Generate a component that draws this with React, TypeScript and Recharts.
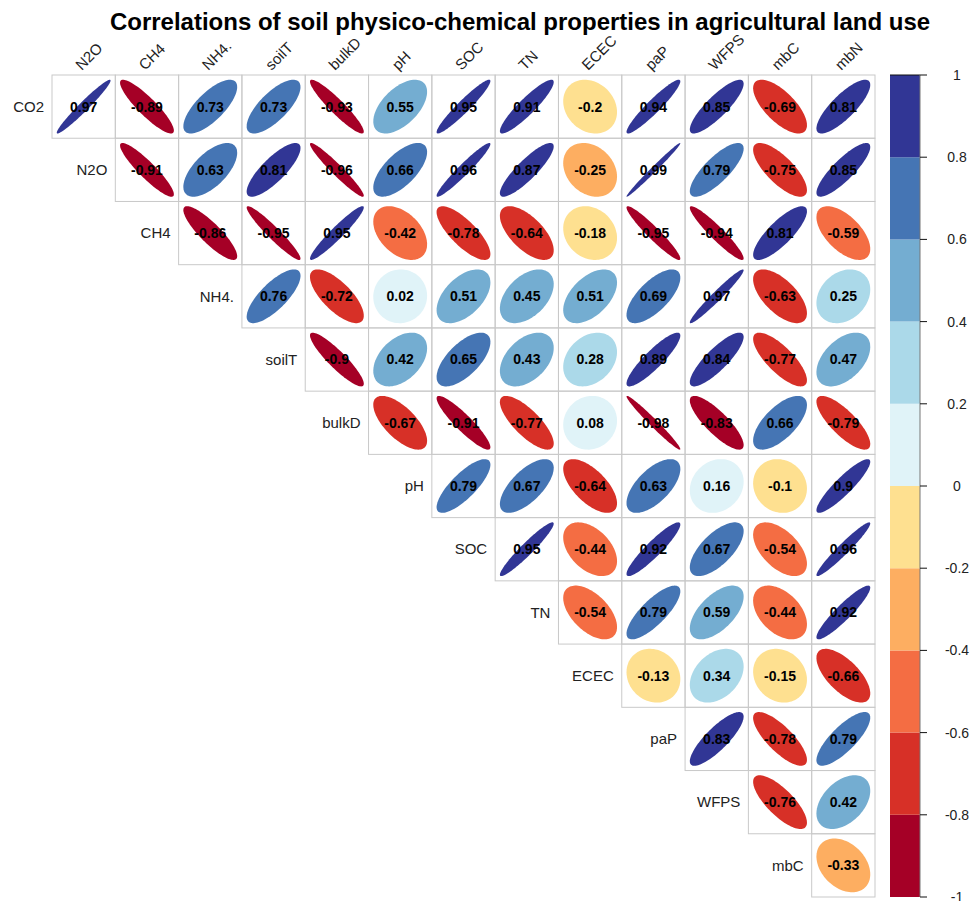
import React from "react";
import {
  ScatterChart,
  Scatter,
  XAxis,
  YAxis,
  ReferenceArea,
  ReferenceLine,
} from "recharts";

const rowVars = ["CO2", "N2O", "CH4", "NH4.", "soilT", "bulkD", "pH", "SOC", "TN", "ECEC", "paP", "WFPS", "mbC"];
const colVars = ["N2O", "CH4", "NH4.", "soilT", "bulkD", "pH", "SOC", "TN", "ECEC", "paP", "WFPS", "mbC", "mbN"];

// each row starts at the diagonal (column index == row index)
const rCO2 = [0.97, -0.89, 0.73, 0.73, -0.93, 0.55, 0.95, 0.91, -0.2, 0.94, 0.85, -0.69, 0.81];
const rN2O = [-0.91, 0.63, 0.81, -0.96, 0.66, 0.96, 0.87, -0.25, 0.99, 0.79, -0.75, 0.85];
const rCH4 = [-0.86, -0.95, 0.95, -0.42, -0.78, -0.64, -0.18, -0.95, -0.94, 0.81, -0.59];
const rNH4 = [0.76, -0.72, 0.02, 0.51, 0.45, 0.51, 0.69, 0.97, -0.63, 0.25];
const rSoilT = [-0.9, 0.42, 0.65, 0.43, 0.28, 0.89, 0.84, -0.77, 0.47];
const rBulkD = [-0.67, -0.91, -0.77, 0.08, -0.98, -0.83, 0.66, -0.79];
const rPH = [0.79, 0.67, -0.64, 0.63, 0.16, -0.1, 0.9];
const rSOC = [0.95, -0.44, 0.92, 0.67, -0.54, 0.96];
const rTN = [-0.54, 0.79, 0.59, -0.44, 0.92];
const rECEC = [-0.13, 0.34, -0.15, -0.66];
const rPaP = [0.83, -0.78, 0.79];
const rWFPS = [-0.76, 0.42];
const rMbC = [-0.33];

const corrRows = [rCO2, rN2O, rCH4, rNH4, rSoilT, rBulkD, rPH, rSOC, rTN, rECEC, rPaP, rWFPS, rMbC];

const legendBreaks = [-1, -0.8, -0.6, -0.4, -0.2, 0, 0.2, 0.4, 0.6, 0.8, 1];
const legendLabels = ["-1", "-0.8", "-0.6", "-0.4", "-0.2", "0", "0.2", "0.4", "0.6", "0.8", "1"];
const legendColors = [
  "#A50026", "#D73027", "#F46D43", "#FDAE61", "#FEE090",
  "#E0F3F8", "#ABD9E9", "#74ADD1", "#4575B4", "#313695",
];

const cells = corrRows.flatMap((vals, i) =>
  vals.map((r, k) => ({ row: i, col: i + k, r }))
);
const rowLabels = rowVars.map((name, i) => ({ row: i, col: i, name }));
const bands = legendColors.map((color, i) => ({
  x: 0.5,
  y: (legendBreaks[i] + legendBreaks[i + 1]) / 2,
  lo: legendBreaks[i],
  hi: legendBreaks[i + 1],
  color,
}));

const W = 972;
const H = 901;
const TOP = 75;
const AXIS_H = 30;
const M = { top: TOP - AXIS_H, right: 97, bottom: 4, left: 52 };
const N = colVars.length;
const cellW = (W - M.left - M.right) / N;
const cellH = (H - TOP - M.bottom) / N;
const FONT = "'Liberation Sans', Arial, Helvetica, sans-serif";

const colorFor = (r: number) => {
  const idx = Math.min(9, Math.max(0, Math.floor((r + 1) / 0.2 + 1e-9)));
  return legendColors[idx];
};

// same ellipse as corrplot's method = "ellipse"
const ellipsePath = (cx: number, cy: number, rho: number) => {
  const a = Math.acos(rho) / 2;
  const pts: string[] = [];
  for (let s = 0; s < 99; s++) {
    const k = (s / 98) * 2 * Math.PI;
    const x = (Math.cos(k + a) / 2) * 0.85 * cellW;
    const y = (Math.cos(k - a) / 2) * 0.85 * cellH;
    pts.push(`${(cx + x).toFixed(2)},${(cy - y).toFixed(2)}`);
  }
  return `M${pts.join("L")}Z`;
};

const CellShape = (props: any) => {
  const { cx, cy, payload } = props;
  if (cx == null || cy == null) return null;
  return (
    <g>
      <rect
        x={cx - cellW / 2}
        y={cy - cellH / 2}
        width={cellW}
        height={cellH}
        fill="none"
        stroke="#c9c9c9"
        strokeWidth={1}
      />
      <path d={ellipsePath(cx, cy, payload.r)} fill={colorFor(payload.r)} />
      <text
        x={cx}
        y={cy}
        dy="0.35em"
        textAnchor="middle"
        fontFamily={FONT}
        fontSize={14}
        fontWeight="bold"
        fill="#000">
        {payload.r}
      </text>
    </g>
  );
};

const RowLabel = (props: any) => {
  const { cx, cy, payload } = props;
  if (cx == null || cy == null) return null;
  return (
    <text
      x={cx - cellW / 2 - 8}
      y={cy}
      dy="0.35em"
      textAnchor="end"
      fontFamily={FONT}
      fontSize={15}
      fill="#222">
      {payload.name}
    </text>
  );
};

const ColTick = ({ x = 0, payload }: any) => {
  if (!payload) return null;
  return (
    <text
      transform={`translate(${x - 2},${TOP - 4}) rotate(-45)`}
      textAnchor="start"
      fontFamily={FONT}
      fontSize={15}
      fill="#222">
      {colVars[payload.value]}
    </text>
  );
};

const LegendTick = ({ x = 0, y = 0, payload }: any) => {
  if (!payload) return null;
  const i = legendBreaks.indexOf(payload.value);
  return (
    <text
      x={x + 28}
      y={y}
      dy="0.35em"
      textAnchor="middle"
      fontFamily={FONT}
      fontSize={14}
      fill="#222">
      {i >= 0 ? legendLabels[i] : payload.value}
    </text>
  );
};

export default function App() {
  return (
    <div
      style={{
        position: "absolute",
        left: 0,
        top: 0,
        width: W,
        height: H,
        background: "#fff",
      }}>
      <div
        style={{
          position: "absolute",
          left: 520,
          top: 8,
          transform: "translateX(-50%)",
          whiteSpace: "nowrap",
          fontFamily: FONT,
          fontWeight: "bold",
          fontSize: 24,
          color: "#000",
        }}>
        Correlations of soil physico-chemical properties in agricultural land use
      </div>
      <div style={{ position: "absolute", left: 0, top: 0 }}>
        <ScatterChart width={W} height={H} margin={M}>
          <XAxis
            type="number"
            dataKey="col"
            orientation="top"
            domain={[-0.5, N - 0.5]}
            ticks={colVars.map((_, i) => i)}
            axisLine={false}
            tickLine={false}
            height={AXIS_H}
            tick={<ColTick />}
            interval={0}
          />
          <YAxis
            type="number"
            dataKey="row"
            domain={[-0.5, N - 0.5]}
            reversed
            hide
          />
          <Scatter data={cells} shape={<CellShape />} isAnimationActive={false} />
          <Scatter data={rowLabels} shape={<RowLabel />} isAnimationActive={false} />
        </ScatterChart>
      </div>
      <div style={{ position: "absolute", left: 880, top: 0 }}>
        <ScatterChart
          width={92}
          height={H}
          margin={{ top: TOP, right: 0, bottom: M.bottom, left: 10 }}>
          <XAxis type="number" dataKey="x" domain={[0, 1]} hide />
          <YAxis
            type="number"
            dataKey="y"
            orientation="right"
            domain={[-1, 1]}
            ticks={legendBreaks}
            interval={0}
            width={52}
            axisLine={{ stroke: "#777" }}
            tickLine={{ stroke: "#111" }}
            tickSize={7}
            tick={<LegendTick />}
          />
          {bands.map((b) => (
            <ReferenceArea
              key={b.lo}
              x1={0}
              x2={1}
              y1={b.lo}
              y2={b.hi}
              fill={b.color}
              fillOpacity={1}
              stroke="none"
            />
          ))}
          <ReferenceLine y={1} stroke="#111" />
          <Scatter data={bands} shape={() => <g />} isAnimationActive={false} />
        </ScatterChart>
      </div>
    </div>
  );
}
